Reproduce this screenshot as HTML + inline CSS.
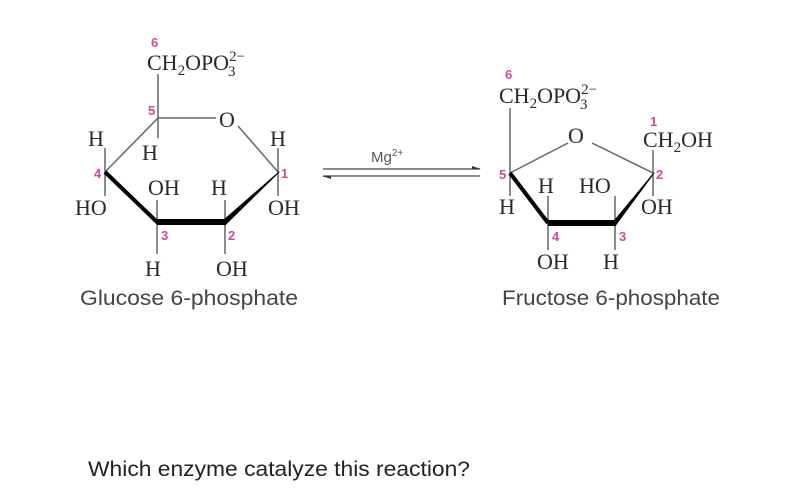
<!DOCTYPE html>
<html><head><meta charset="utf-8"><style>
html,body{margin:0;padding:0;background:#fff;width:800px;height:501px;overflow:hidden}
svg{display:block}
.c{font-family:"Liberation Serif",serif;font-size:22px;fill:#2a2a2a}
.s{font-family:"Liberation Serif",serif;font-size:15px;fill:#2a2a2a}
.n{font-family:"Liberation Sans",sans-serif;font-size:13px;fill:#d4489a;font-weight:bold}
.l{font-family:"Liberation Sans",sans-serif;font-size:21px;fill:#444}
</style></head><body>
<svg width="800" height="501" viewBox="0 0 800 501">
<g stroke="#666" stroke-width="1.5" fill="none">
<line x1="158" y1="74" x2="158" y2="118"/>
<line x1="158" y1="118" x2="216" y2="118"/>
<line x1="238" y1="126" x2="278" y2="172"/>
<line x1="158" y1="118" x2="105" y2="172"/>
<line x1="158" y1="118" x2="158" y2="138"/>
<line x1="105" y1="148" x2="105" y2="196"/>
<line x1="278" y1="148" x2="278" y2="196"/>
<line x1="157" y1="200" x2="157" y2="254"/>
<line x1="225" y1="200" x2="225" y2="254"/>
<line x1="510" y1="108" x2="510" y2="196"/>
<line x1="510" y1="173" x2="568" y2="143"/>
<line x1="592" y1="143" x2="653" y2="173"/>
<line x1="653" y1="150" x2="653" y2="196"/>
<line x1="548" y1="196" x2="548" y2="250"/>
<line x1="615" y1="196" x2="615" y2="250"/>
<line x1="323" y1="169" x2="480" y2="169"/>
<line x1="323" y1="176" x2="480" y2="176"/>
</g>
<g stroke="#000" fill="none" stroke-linejoin="round">
<polyline points="105,172 157,222 225,222" stroke-width="4"/>
<polygon points="225,219 225,225 279,172" fill="#000" stroke-width="1"/>
<line x1="157" y1="222" x2="225" y2="222" stroke-width="6"/>
<polyline points="510,173 548,223" stroke-width="4"/>
<line x1="548" y1="223" x2="615" y2="223" stroke-width="6"/>
<polygon points="615,220 615,226 654,173" fill="#000" stroke-width="1"/>
</g>
<polygon points="472,166 481,169 472,169" fill="#333"/>
<polygon points="331,179 322,176 331,176" fill="#333"/>
<text class="n" x="151" y="47">6</text>
<text class="c" x="147" y="70">CH<tspan class="s" dy="5">2</tspan><tspan dy="-5">OPO</tspan><tspan class="s" dy="-9">2−</tspan><tspan class="s" dx="-17" dy="15">3</tspan></text>
<text class="n" x="148" y="115">5</text>
<text class="c" x="219" y="127">O</text>
<text class="c" x="88" y="146">H</text>
<text class="c" x="142" y="160">H</text>
<text class="c" x="270" y="146">H</text>
<text class="n" x="94" y="178">4</text>
<text class="n" x="281" y="178">1</text>
<text class="c" x="148" y="195">OH</text>
<text class="c" x="211" y="195">H</text>
<text class="c" x="75" y="215">HO</text>
<text class="c" x="268" y="215">OH</text>
<text class="n" x="161" y="240">3</text>
<text class="n" x="228" y="240">2</text>
<text class="c" x="145" y="276">H</text>
<text class="c" x="216" y="276">OH</text>
<text class="l" x="80" y="305" textLength="218" lengthAdjust="spacingAndGlyphs">Glucose 6-phosphate</text>
<text x="371" y="162" style="font-family:'Liberation Sans',sans-serif;font-size:15px;fill:#555">Mg<tspan font-size="10" dy="-6">2+</tspan></text>
<text class="n" x="505" y="79">6</text>
<text class="c" x="499" y="103">CH<tspan class="s" dy="5">2</tspan><tspan dy="-5">OPO</tspan><tspan class="s" dy="-9">2−</tspan><tspan class="s" dx="-17" dy="15">3</tspan></text>
<text class="c" x="568" y="143">O</text>
<text class="n" x="650" y="126">1</text>
<text class="c" x="643" y="147">CH<tspan class="s" dy="5">2</tspan><tspan dy="-5">OH</tspan></text>
<text class="n" x="499" y="179">5</text>
<text class="n" x="656" y="179">2</text>
<text class="c" x="538" y="193">H</text>
<text class="c" x="579" y="193">HO</text>
<text class="c" x="499" y="214">H</text>
<text class="c" x="641" y="214">OH</text>
<text class="n" x="552" y="241">4</text>
<text class="n" x="619" y="241">3</text>
<text class="c" x="537" y="269">OH</text>
<text class="c" x="603" y="269">H</text>
<text class="l" x="502" y="305" textLength="218" lengthAdjust="spacingAndGlyphs">Fructose 6-phosphate</text>
<text x="88" y="476" textLength="382" lengthAdjust="spacingAndGlyphs" style="font-family:'Liberation Sans',sans-serif;font-size:21px;fill:#222">Which enzyme catalyze this reaction?</text>
</svg>
</body></html>
